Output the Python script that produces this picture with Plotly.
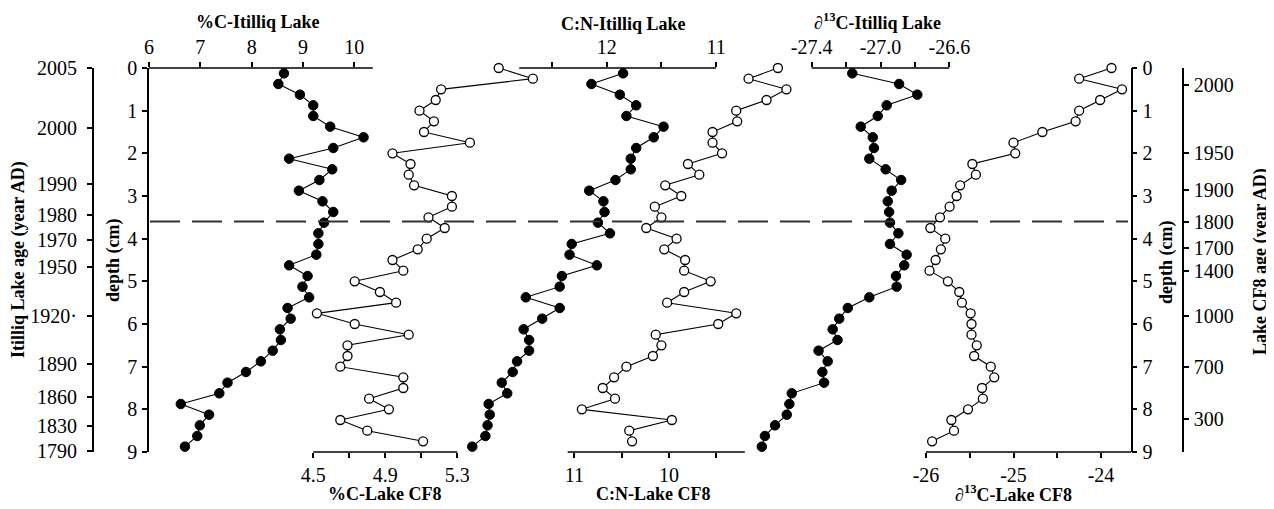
import plotly.graph_objects as go

# ---------------- data ----------------
depth_itilliq = [0.125, 0.375, 0.625, 0.875, 1.125, 1.375, 1.625, 1.875, 2.125, 2.375, 2.625, 2.875,
                 3.125, 3.375, 3.625, 3.875, 4.125, 4.375, 4.625, 4.875, 5.125, 5.375, 5.625, 5.875,
                 6.125, 6.375, 6.625, 6.875, 7.125, 7.375, 7.625, 7.875, 8.125, 8.375, 8.625, 8.875]
depth_cf8 = [0.0, 0.25, 0.5, 0.75, 1.0, 1.25, 1.5, 1.75, 2.0, 2.25, 2.5, 2.75,
             3.0, 3.25, 3.5, 3.75, 4.0, 4.25, 4.5, 4.75, 5.0, 5.25, 5.5, 5.75,
             6.0, 6.25, 6.5, 6.75, 7.0, 7.25, 7.5, 7.75, 8.0, 8.25, 8.5, 8.75]

pc_itilliq = [8.63, 8.52, 8.94, 9.20, 9.20, 9.53, 10.18, 9.59, 8.73, 9.57, 9.32, 8.92,
              9.38, 9.59, 9.41, 9.30, 9.30, 9.26, 8.73, 9.09, 8.99, 9.12, 8.70, 8.76,
              8.55, 8.57, 8.41, 8.18, 7.89, 7.53, 7.37, 6.62, 7.17, 6.99, 6.94, 6.70]
pc_cf8 = [5.53, 5.72, 5.21, 5.18, 5.09, 5.17, 5.115, 5.37, 4.94, 5.04, 5.03, 5.06,
          5.27, 5.27, 5.14, 5.23, 5.13, 5.08, 4.94, 5.00, 4.73, 4.87, 4.96, 4.52,
          4.73, 5.03, 4.69, 4.69, 4.65, 5.00, 5.00, 4.81, 4.92, 4.65, 4.80, 5.11]
cn_itilliq = [11.85, 12.14, 11.88, 11.73, 11.82, 11.48, 11.57, 11.73, 11.78, 11.78, 11.92, 12.16,
              12.03, 12.02, 12.08, 11.97, 12.32, 12.34, 12.09, 12.41, 12.43, 12.74, 12.43, 12.59,
              12.76, 12.71, 12.71, 12.82, 12.86, 12.96, 12.91, 13.08, 13.07, 13.09, 13.11, 13.23]
cn_cf8 = [8.85, 9.16, 8.76, 8.97, 9.29, 9.28, 9.54, 9.54, 9.44, 9.80, 9.68, 10.04,
          9.87, 10.15, 10.08, 10.24, 9.92, 10.05, 9.83, 9.84, 9.56, 9.84, 10.02, 9.29,
          9.48, 10.14, 10.08, 10.17, 10.45, 10.58, 10.70, 10.57, 10.92, 9.97, 10.42, 10.39]
d13c_itilliq = [-27.164, -26.892, -26.786, -26.964, -27.016, -27.115, -27.045, -27.038, -27.065,
                -26.97, -26.88, -26.935, -26.958, -26.95, -26.945, -26.896, -26.945, -26.848,
                -26.862, -26.91, -26.906, -27.065, -27.19, -27.24, -27.278, -27.25, -27.36,
                -27.307, -27.338, -27.328, -27.516, -27.53, -27.545, -27.613, -27.672, -27.69]
d13c_cf8 = [-23.88, -24.25, -23.76, -24.01, -24.25, -24.29, -24.67, -25.0, -24.98, -25.47,
            -25.43, -25.61, -25.65, -25.73, -25.84, -25.95, -25.78, -25.83, -25.89, -25.96,
            -25.75, -25.62, -25.59, -25.49, -25.48, -25.48, -25.42, -25.45, -25.26, -25.22,
            -25.36, -25.35, -25.52, -25.71, -25.68, -25.93]

depth_ticks = [0, 1, 2, 3, 4, 5, 6, 7, 8, 9]
depth_ticktext = ["0", "1", "2", "3", "4", "5", "6", "7", "8", "9"]

itilliq_age_labels = ["2005", "2000", "1990", "1980", "1970", "1950", "1920\u00b7", "1890", "1860", "1830", "1790"]
itilliq_age_depths = [0.0, 1.41, 2.72, 3.44, 4.03, 4.66, 5.81, 6.94, 7.71, 8.39, 8.98]
cf8_age_labels = ["2000", "1950", "1900", "1800", "1700", "1400", "1000", "700", "300"]
cf8_age_depths = [0.41, 2.0, 2.86, 3.6, 4.23, 4.75, 5.81, 7.0, 8.23]

boundary_depth = 3.6

pc_it_ticks = [6, 7, 8, 9, 10]
pc_it_text = ["6", "7", "8", "9", "10"]
pc_cf_ticks = [4.5, 4.7, 4.9, 5.1, 5.3]
pc_cf_text = ["4.5", " ", "4.9", " ", "5.3"]
cn_it_ticks = [12.5, 12, 11.5, 11]
cn_it_text = [" ", "12", " ", "11"]
cn_cf_ticks = [11, 10.5, 10, 9.5]
cn_cf_text = ["11", " ", "10", " "]
d13_it_ticks = [-27.4, -27.2, -27.0, -26.8, -26.6]
d13_it_text = ["-27.4", " ", "-27.0", " ", "-26.6"]
d13_cf_ticks = [-26, -25.5, -25, -24.5, -24]
d13_cf_text = ["-26", " ", "-25", " ", "-24"]

# ---------------- layout geometry (page pixels -> paper) ----------------
OFF = 8                       # page body margin
W, H = 1274 - OFF, 509 - OFF
TOP_PX, BOT_PX = 68, 452      # page y of depth 0 and depth 9
MT = TOP_PX - OFF
MB = H - (BOT_PX - OFF)
PH = H - MT - MB


def rng(v1, p1, v2, p2):
    p1 -= OFF
    p2 -= OFF
    s = (p2 - p1) / (v2 - v1)
    return [v1 - p1 / s, v1 + (W - p1) / s]


def px(p):
    return (p - OFF) / W


def py(p):
    return (BOT_PX - p) / PH


SERIF = "Liberation Serif, Times New Roman, serif"
tickfont = dict(family=SERIF, size=20, color="black")

fig = go.Figure()


def add_series(x, y, xa, ya, filled):
    if filled:
        marker = dict(symbol="circle", size=9.5, color="black", line=dict(color="black", width=1))
    else:
        marker = dict(symbol="circle", size=9, color="white", line=dict(color="black", width=1.3))
    fig.add_trace(go.Scatter(x=x, y=y, xaxis=xa, yaxis=ya, mode="lines+markers",
                             line=dict(color="black", width=1.1), marker=marker,
                             showlegend=False, hoverinfo="skip", cliponaxis=False))


add_series(pc_itilliq, depth_itilliq, "x", "y", True)
add_series(pc_cf8, depth_cf8, "x2", "y", False)
add_series(cn_itilliq, depth_itilliq, "x3", "y2", True)
add_series(cn_cf8, depth_cf8, "x4", "y4", False)
add_series(d13c_itilliq, depth_itilliq, "x5", "y", True)
add_series(d13c_cf8, depth_cf8, "x6", "y3", False)


def xaxis(side, r, tv, tt, overlay=True):
    d = dict(domain=[0, 1], anchor="y", side=side, range=r, tickmode="array", tickvals=tv,
             ticktext=tt, ticks="outside", ticklen=5, tickwidth=1.5, tickcolor="black",
             showline=False, showgrid=False, zeroline=False, tickfont=tickfont,
             ticklabelstandoff=0)
    if overlay:
        d["overlaying"] = "x"
    return d


axis_common = dict(range=[9, 0], domain=[0, 1], showgrid=False, zeroline=False,
                   showline=True, linewidth=1.5, linecolor="black", ticks="outside",
                   ticklen=5, tickwidth=1.5, tickcolor="black", tickfont=tickfont,
                   tickmode="array")

fig.update_layout(
    width=W, height=H,
    margin=dict(l=0, r=0, t=MT, b=MB),
    paper_bgcolor="white", plot_bgcolor="rgba(0,0,0,0)",
    xaxis=xaxis("top", rng(6, 149, 10, 354.3), pc_it_ticks, pc_it_text, overlay=False),
    xaxis2=xaxis("bottom", rng(4.5, 313.3, 5.3, 457.3), pc_cf_ticks, pc_cf_text),
    xaxis3=xaxis("top", rng(12, 606.7, 11, 716), cn_it_ticks, cn_it_text),
    xaxis4=xaxis("bottom", rng(11, 574.3, 10, 669), cn_cf_ticks, cn_cf_text),
    xaxis5=xaxis("top", rng(-27.4, 811.7, -26.6, 949.3), d13_it_ticks, d13_it_text),
    xaxis6=xaxis("bottom", rng(-26, 926, -24, 1101), d13_cf_ticks, d13_cf_text),
    yaxis=dict(anchor="free", position=px(148), side="left", tickvals=depth_ticks,
               ticktext=depth_ticktext, ticklabelstandoff=1, **axis_common),
    yaxis2=dict(anchor="free", position=px(92.7), side="left", overlaying="y",
                tickvals=itilliq_age_depths, ticktext=itilliq_age_labels,
                ticklabelstandoff=6, **axis_common),
    yaxis3=dict(anchor="free", position=px(1131.7), side="right", overlaying="y",
                tickvals=depth_ticks, ticktext=depth_ticktext, ticklabelstandoff=1, **axis_common),
    yaxis4=dict(anchor="free", position=px(1183), side="right", overlaying="y",
                tickvals=cf8_age_depths, ticktext=cf8_age_labels, ticklabelstandoff=1, **axis_common),
)

# axis spines that cover only part of each overlaid axis
spines = [("x", 6, 10.36, 1), ("x2", 4.5, 5.3, 0), ("x3", 12.8, 11, 1),
          ("x4", 11.07, 9.2, 0), ("x5", -27.4, -26.6, 1), ("x6", -26, -23.657, 0)]
for xa, a, b, yy in spines:
    fig.add_shape(type="line", xref=xa, yref="paper", x0=a, x1=b, y0=yy, y1=yy,
                  line=dict(color="black", width=1.5))

# boundary dashed line
fig.add_shape(type="line", xref="paper", yref="y", x0=px(150), x1=px(1128),
              y0=boundary_depth, y1=boundary_depth,
              line=dict(color="#333333", width=2, dash="30px,12px"))

titlefont = dict(family=SERIF, size=18, color="black")
ann = [
    ("<b>%C-Itilliq Lake</b>", 258, 22, 0),
    ("<b>C:N-Itilliq Lake</b>", 623, 24, 0),
    ("<b><i>\u2202</i><sup>13</sup>C-Itilliq Lake</b>", 877, 22, 0),
    ("<b>%C-Lake CF8</b>", 385, 494, 0),
    ("<b>C:N-Lake CF8</b>", 653, 494, 0),
    ("<b><i>\u2202</i><sup>13</sup>C-Lake CF8</b>", 1013, 493, 0),
    ("<b>Itilliq Lake age (year AD)</b>", 18, 260, -90),
    ("<b>depth (cm)</b>", 113, 260, -90),
    ("<b>depth (cm)</b>", 1167, 262, -90),
    ("<b>Lake CF8 age (year AD)</b>", 1261, 262, -90),
]
for text, x, y, ang in ann:
    fig.add_annotation(text=text, xref="paper", yref="paper", x=px(x), y=py(y),
                       showarrow=False, textangle=ang, font=titlefont,
                       xanchor="center", yanchor="middle")

fig.write_html("out.html")
